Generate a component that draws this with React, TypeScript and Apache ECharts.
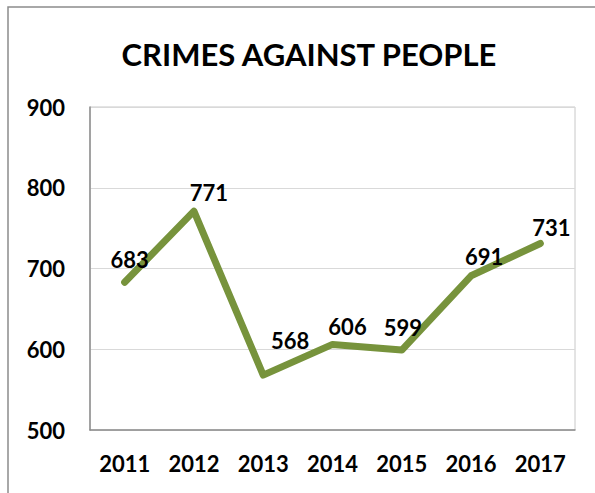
import React, { useEffect, useRef } from "react";
import * as echarts from "echarts";

const years = ["2011", "2012", "2013", "2014", "2015", "2016", "2017"];
const crimes = [683, 771, 568, 606, 599, 691, 731];
const labelOffsets: [number, number][] = [
  [5, -4],
  [15, 0],
  [27, -16],
  [15, 1],
  [1, -4],
  [13, 0],
  [11, 3],
];

const FONT = "Lato, 'Open Sans', sans-serif";

export default function App() {
  const ref = useRef<HTMLDivElement>(null);
  useEffect(() => {
    if (!ref.current) return;
    const chart = echarts.init(ref.current, null, { renderer: "svg" });
    chart.setOption({
      animation: false,
      backgroundColor: "#ffffff",
      title: {
        text: "CRIMES AGAINST PEOPLE",
        left: 304,
        textAlign: "center",
        top: 33,
        textStyle: {
          fontFamily: FONT,
          fontWeight: "bold",
          fontSize: 31,
          color: "#000",
        },
      },
      graphic: [
        {
          type: "rect",
          shape: { x: 8, y: 7, width: 700, height: 600 },
          style: { fill: "none", stroke: "#8c8c8c", lineWidth: 1.5 },
          silent: true,
        },
      ],
      grid: {
        left: 90,
        right: 20,
        top: 107,
        bottom: 63,
        show: true,
        borderColor: "#c8c8c8",
        borderWidth: 1,
      },
      xAxis: {
        type: "category",
        data: years,
        boundaryGap: true,
        axisLine: { show: true, lineStyle: { color: "#8c8c8c", width: 1.5 } },
        axisTick: { show: false },
        axisLabel: {
          margin: 22,
          fontFamily: FONT,
          fontWeight: "bold",
          fontSize: 22,
          color: "#000",
        },
      },
      yAxis: {
        type: "value",
        min: 500,
        max: 900,
        interval: 100,
        axisLine: { show: true, lineStyle: { color: "#8c8c8c", width: 1.5 } },
        axisTick: { show: false },
        splitLine: { lineStyle: { color: "#d9d9d9", width: 1.2 } },
        axisLabel: {
          margin: 25,
          fontFamily: FONT,
          fontWeight: "bold",
          fontSize: 22,
          color: "#000",
        },
      },
      series: [
        {
          type: "line",
          data: crimes.map((v, i) => ({
            value: v,
            label: { offset: labelOffsets[i] },
          })),
          symbol: "circle",
          symbolSize: 2,
          showSymbol: true,
          itemStyle: { color: "#77933c" },
          lineStyle: { color: "#77933c", width: 7, cap: "round", join: "round" },
          label: {
            show: true,
            position: "top",
            distance: 7,
            fontFamily: FONT,
            fontWeight: "bold",
            fontSize: 22,
            color: "#000",
          },
        },
      ],
    });
    return () => chart.dispose();
  }, []);
  return (
    <div
      ref={ref}
      style={{ position: "fixed", left: 0, top: 0, width: 595, height: 493 }}
    />
  );
}
